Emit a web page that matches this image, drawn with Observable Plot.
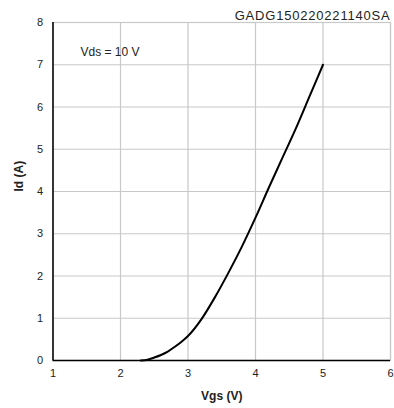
<!DOCTYPE html>
<html>
<head>
<meta charset="utf-8">
<script src="https://cdn.jsdelivr.net/npm/d3@7"></script>
<script src="https://cdn.jsdelivr.net/npm/@observablehq/plot@0.6"></script>
<style>
  html, body { margin: 0; padding: 0; background: #fff; }
  #chart svg { display: block; font-family: "Liberation Sans", Arial, sans-serif; }
</style>
</head>
<body>
<div id="chart"></div>
<script>
const vgs = [2.3, 2.4, 2.5, 2.6, 2.7, 2.8, 2.9, 3.0, 3.2, 3.4, 3.6, 3.8, 4.0, 4.2, 4.4, 4.6, 4.8, 5.0];
const idA = [0, 0.02, 0.07, 0.13, 0.21, 0.32, 0.44, 0.58, 0.98, 1.5, 2.08, 2.7, 3.38, 4.1, 4.8, 5.5, 6.25, 7.0];
const xTicks = [1, 2, 3, 4, 5, 6];
const yTicks = [0, 1, 2, 3, 4, 5, 6, 7, 8];
const titleText = "GADG150220221140SA";
const noteText = "Vds = 10 V";
const xLabel = "Vgs (V)";
const yLabel = "Id (A)";

const data = vgs.map((v, i) => ({vgs: v, id: idA[i]}));
const grid = "#c8c8c8";

const chart = Plot.plot({
  width: 394,
  height: 408,
  marginLeft: 52.5,
  marginRight: 4,
  marginTop: 22,
  marginBottom: 48,
  style: {fontFamily: "Liberation Sans, Arial, sans-serif", fontSize: "11px", color: "#222"},
  x: {domain: [1, 6]},
  y: {domain: [0, 8]},
  marks: [
    Plot.gridX(xTicks, {stroke: grid, strokeOpacity: 1, strokeWidth: 1.2}),
    Plot.gridY(yTicks, {stroke: grid, strokeOpacity: 1, strokeWidth: 1.2}),
    Plot.frame({stroke: grid, strokeWidth: 1.2}),
    Plot.axisX(xTicks, {tickSize: 0, tickPadding: 9, label: null, fontSize: 11, fill: "#222"}),
    Plot.axisY(yTicks, {tickSize: 0, tickPadding: 10, label: null, fontSize: 11, fill: "#222"}),
    Plot.ruleX([1], {stroke: "#000", strokeWidth: 1.5}),
    Plot.ruleY([0], {stroke: "#000", strokeWidth: 1.5}),
    Plot.line(data, {x: "vgs", y: "id", stroke: "#000", strokeWidth: 2, curve: "monotone-x"}),
    Plot.text([noteText], {frameAnchor: "top-left", dx: 27.5, dy: 30, textAnchor: "start", lineAnchor: "middle", fontSize: 12, fill: "#222"}),
    Plot.text([titleText], {frameAnchor: "top-right", dx: 0, dy: -3, textAnchor: "end", lineAnchor: "bottom", fontSize: 13, fill: "#222"}),
    Plot.text([xLabel], {frameAnchor: "bottom", dy: 36, lineAnchor: "middle", fontSize: 12, fontWeight: "bold", fill: "#222"}),
    Plot.text([yLabel], {frameAnchor: "left", dx: -34, rotate: -90, lineAnchor: "middle", fontSize: 12, fontWeight: "bold", fill: "#222"})
  ]
});
chart.querySelectorAll("text").forEach(t => {
  if (t.textContent === titleText) t.setAttribute("letter-spacing", "0.8");
});
document.getElementById("chart").appendChild(chart);
</script>
</body>
</html>
